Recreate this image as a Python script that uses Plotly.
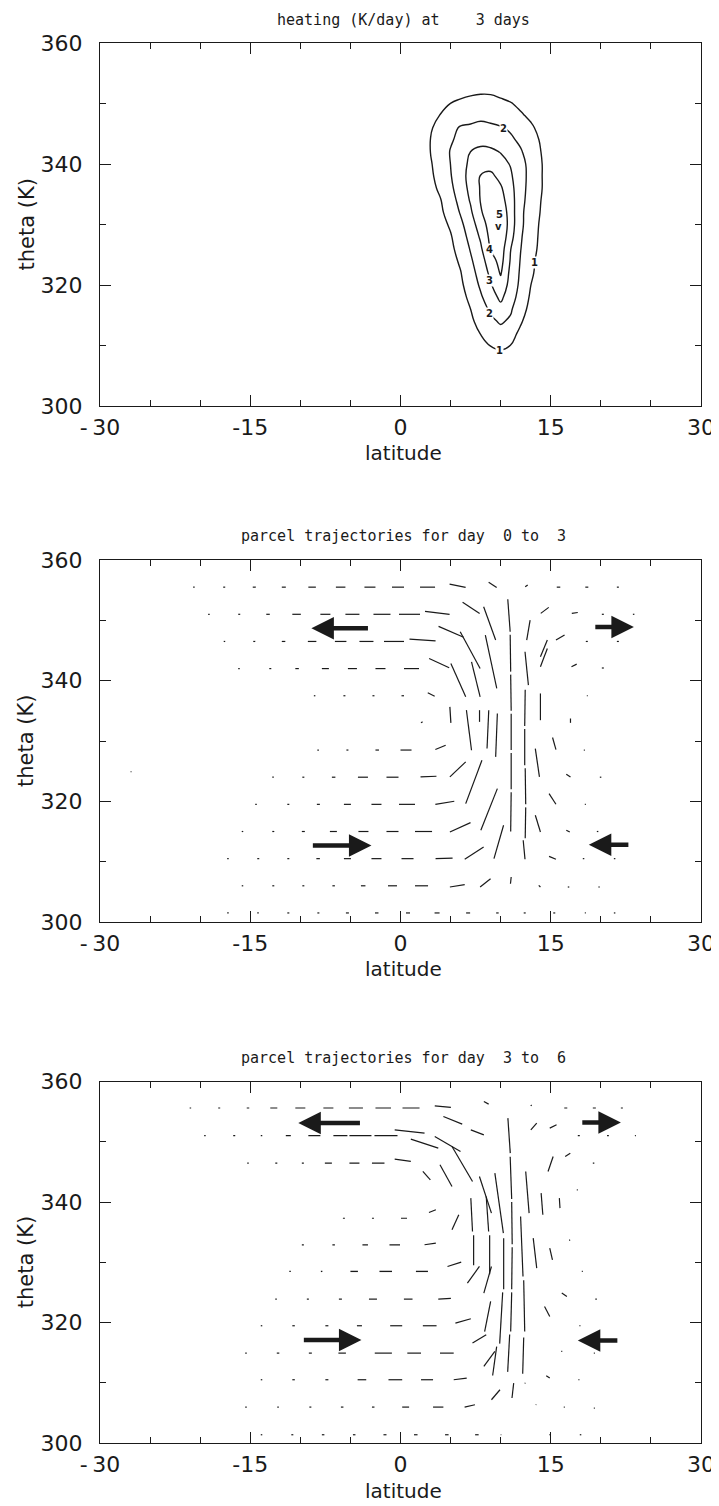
import plotly.graph_objects as go

# ---------------- panel 1 : heating field (K/day) ----------------
lat_grid = [2, 3, 4, 5, 6, 7, 8, 9, 10, 11, 12, 13, 14, 15, 16]
theta_grid = [306, 308, 310, 312, 314, 316, 318, 320, 322, 324, 326, 328, 330,
              332, 334, 336, 338, 340, 342, 344, 346, 348, 350, 352, 354]
heating = [
    [0, 0, 0, 0, 0, 0, 0.1, 0.2, 0.3, 0.2, 0.1, 0, 0, 0, 0],
    [0, 0, 0, 0, 0, 0.15, 0.35, 0.55, 0.7, 0.55, 0.3, 0.1, 0, 0, 0],
    [0, 0, 0, 0, 0, 0.28, 0.68, 1.03, 1.17, 0.99, 0.6, 0.2, 0, 0, 0],
    [0, 0, 0, 0, 0.24, 0.64, 1.03, 1.35, 1.66, 1.25, 0.84, 0.44, 0.04, 0, 0],
    [0, 0, 0, 0.04, 0.44, 0.84, 1.3, 1.8, 2.12, 1.85, 1.08, 0.64, 0.24, 0, 0],
    [0, 0, 0, 0.2, 0.6, 1.0, 1.59, 2.16, 2.7, 2.12, 1.33, 0.76, 0.36, 0, 0],
    [0, 0, 0, 0.32, 0.72, 1.2, 1.87, 2.57, 3.21, 2.45, 1.58, 0.88, 0.48, 0.08, 0],
    [0, 0, 0.04, 0.44, 0.84, 1.43, 2.15, 2.92, 3.67, 2.64, 1.77, 1.01, 0.6, 0.2, 0],
    [0, 0, 0.16, 0.56, 0.96, 1.64, 2.38, 3.22, 4.09, 2.73, 1.86, 1.14, 0.68, 0.28, 0],
    [0, 0, 0.28, 0.68, 1.14, 1.86, 2.57, 3.57, 4.35, 2.9, 1.93, 1.21, 0.72, 0.32, 0],
    [0, 0, 0.4, 0.8, 1.36, 2.08, 2.85, 4.06, 4.53, 3.02, 2.02, 1.33, 0.8, 0.4, 0],
    [0, 0.12, 0.52, 0.92, 1.57, 2.31, 3.14, 4.28, 4.8, 3.33, 2.1, 1.4, 0.84, 0.44, 0.04],
    [0, 0.28, 0.68, 1.13, 1.8, 2.54, 3.5, 4.44, 4.98, 3.5, 2.2, 1.47, 0.88, 0.48, 0.08],
    [0.04, 0.44, 0.84, 1.4, 2.08, 2.85, 3.89, 4.59, 4.76, 3.5, 2.2, 1.53, 0.96, 0.56, 0.16],
    [0.16, 0.56, 0.96, 1.6, 2.31, 3.1, 4.05, 4.59, 4.4, 3.43, 2.3, 1.59, 1.01, 0.6, 0.2],
    [0.32, 0.72, 1.19, 1.81, 2.5, 3.27, 4.08, 4.46, 4.13, 3.3, 2.36, 1.65, 1.06, 0.64, 0.24],
    [0.44, 0.84, 1.35, 1.94, 2.64, 3.33, 4.05, 4.22, 3.71, 3.12, 2.38, 1.69, 1.06, 0.64, 0.24],
    [0.52, 0.92, 1.44, 2.01, 2.67, 3.18, 3.55, 3.64, 3.3, 2.94, 2.31, 1.69, 1.06, 0.64, 0.24],
    [0.6, 1.01, 1.53, 2.05, 2.52, 3.01, 3.21, 3.18, 2.96, 2.52, 2.09, 1.56, 1.01, 0.6, 0.2],
    [0.6, 1.01, 1.45, 1.91, 2.21, 2.48, 2.74, 2.65, 2.4, 2.15, 1.82, 1.36, 0.92, 0.52, 0.12],
    [0.52, 0.92, 1.29, 1.7, 2.1, 2.18, 2.27, 2.2, 2.08, 1.86, 1.5, 1.14, 0.76, 0.36, 0],
    [0.32, 0.72, 1.05, 1.23, 1.41, 1.59, 1.76, 1.65, 1.47, 1.29, 1.11, 0.84, 0.44, 0.04, 0],
    [0, 0.24, 0.64, 1.01, 1.15, 1.25, 1.32, 1.27, 1.16, 1.05, 0.8, 0.4, 0, 0, 0],
    [0, 0.05, 0.2, 0.35, 0.75, 0.85, 0.9, 0.9, 0.8, 0.6, 0.4, 0.25, 0.1, 0, 0],
    [0, 0, 0, 0, 0.05, 0.15, 0.25, 0.25, 0.15, 0.05, 0, 0, 0, 0, 0],
]
contour_labels = [  # (lat, theta, text)
    (10.3, 345.9, "2"), (13.4, 323.8, "1"), (9.9, 309.2, "1"),
    (8.9, 315.3, "2"), (8.9, 320.7, "3"), (8.9, 325.8, "4"),
    (9.9, 331.7, "5"), (9.8, 329.6, "v"),
]

# ---------------- panel 2 : parcel trajectories day 0 to 3 ----------------
# each entry: (lat start, theta start, lat end, theta end)
traj_0_3 = [
    # theta ~355.5
    (-20.7, 355.5, -20.55, 355.5), (-17.7, 355.5, -17.5, 355.5), (-14.75, 355.5, -14.45, 355.5),
    (-11.85, 355.5, -11.45, 355.5), (-9.2, 355.5, -8.45, 355.5), (-6.45, 355.5, -5.5, 355.5),
    (-3.6, 355.5, -2.5, 355.5), (-0.85, 355.5, 0.35, 355.5), (1.95, 355.5, 3.45, 355.5),
    (4.9, 356.0, 6.5, 355.45), (8.8, 356.3, 9.6, 355.45), (12.45, 355.55, 12.7, 355.85),
    (15.6, 355.5, 15.95, 355.5), (18.45, 355.5, 18.75, 355.5), (21.6, 355.5, 21.8, 355.5),
    # theta ~351
    (-19.2, 351, -19.05, 351), (-16.2, 351, -16.0, 351), (-13.4, 351, -13.05, 351),
    (-10.8, 351, -9.95, 351), (-8.0, 351, -7.0, 351), (-5.5, 351, -4.1, 351),
    (-2.7, 351, -1.0, 351), (-0.15, 351, 1.95, 351), (2.45, 351.5, 4.9, 351.0),
    (6.2, 353.0, 7.9, 351.15), (14.0, 351.15, 14.8, 352.15),
    (17.1, 351.15, 17.7, 351.3), (20.1, 351, 20.3, 351), (23.2, 351, 23.35, 351),
    # theta ~346.5
    (-17.65, 346.5, -17.5, 346.5), (-14.7, 346.5, -14.5, 346.5), (-11.85, 346.5, -11.5, 346.5),
    (-9.25, 346.5, -8.4, 346.5), (-6.55, 346.5, -5.4, 346.5), (-4.1, 346.5, -2.7, 346.5),
    (-1.65, 346.5, 0.35, 346.5), (0.9, 346.9, 3.5, 346.6), (3.8, 349.0, 6.3, 347.2),
    (12.94, 350.04, 12.6, 346.73), (13.97, 343.96, 14.66, 346.73), (15.52, 346.73, 16.38, 347.56),
    (18.5, 346.5, 18.7, 346.5), (21.6, 346.5, 21.8, 346.5),
    # theta ~342
    (-16.2, 342, -16.05, 342), (-13.1, 342, -12.9, 342), (-10.5, 342, -10.15, 342),
    (-7.85, 342, -7.15, 342), (-5.25, 342, -4.35, 342), (-2.5, 342, -1.5, 342),
    (0.35, 342, 1.85, 342), (2.86, 343.68, 4.86, 342.13), (13.97, 342.3, 14.66, 345.34),
    (17.07, 342.3, 17.59, 342.74), (20.1, 342.1, 20.3, 342.1),
    # theta ~337.5
    (-8.65, 337.5, -8.5, 337.5), (-5.7, 337.5, -5.5, 337.5), (-2.8, 337.5, -2.6, 337.5),
    (0.1, 337.5, 0.35, 337.5), (2.72, 337.99, 3.41, 337.43), (13.97, 333.45, 13.97, 337.88),
    (18.6, 337.5, 18.7, 337.5),
    # theta ~333
    (2.05, 333, 2.2, 333.2), (4.93, 335.66, 5.03, 333.01), (16.97, 333.73, 16.97, 333.01),
    # theta ~328.5
    (-8.3, 328.5, -8.15, 328.5), (-5.4, 328.5, -5.2, 328.5), (-2.5, 328.5, -2.15, 328.5),
    (0.0, 328.5, 1.1, 328.5), (3.48, 328.58, 4.51, 329.3), (15.18, 330.58, 15.52, 328.58),
    (18.3, 328.5, 18.4, 328.5),
    # theta ~324
    (-12.8, 324, -12.65, 324), (-9.8, 324, -9.6, 324), (-6.85, 324, -6.5, 324),
    (-4.25, 324, -3.25, 324), (-1.4, 324, -0.2, 324), (2.0, 324.05, 3.59, 324.16),
    (4.93, 324.05, 6.51, 326.54), (13.46, 328.75, 13.87, 324.05), (16.55, 324.49, 16.97, 324.05),
    (19.9, 324, 20.05, 324),
    # theta ~319.5
    (-14.5, 319.5, -14.35, 319.5), (-11.3, 319.5, -11.1, 319.5), (-8.35, 319.5, -8.05, 319.5),
    (-5.65, 319.5, -4.95, 319.5), (-2.9, 319.5, -1.9, 319.5), (-0.15, 319.5, 1.45, 319.5),
    (3.48, 319.51, 5.37, 320.01), (14.83, 321.28, 15.52, 319.51), (18.4, 319.5, 18.5, 319.5),
    # theta ~315
    (-15.85, 315, -15.7, 315), (-12.8, 315, -12.6, 315), (-9.85, 315, -9.55, 315),
    (-7.05, 315, -6.35, 315), (-4.2, 315, -3.2, 315), (-1.4, 315, -0.2, 315),
    (1.45, 315, 3.15, 315), (4.93, 314.92, 6.99, 316.47), (13.46, 317.69, 13.97, 314.92),
    (16.55, 315.2, 16.9, 314.92), (19.6, 315, 19.75, 315),
    # theta ~310.5
    (-17.3, 310.5, -17.15, 310.5), (-14.3, 310.5, -14.1, 310.5), (-11.3, 310.5, -11.1, 310.5),
    (-8.4, 310.5, -8.05, 310.5), (-5.65, 310.5, -4.95, 310.5), (-2.9, 310.5, -1.9, 310.5),
    (0.1, 310.5, 1.3, 310.5), (3.5, 310.5, 5.2, 310.6), (6.41, 310.39, 8.3, 312.43),
    (14.83, 310.88, 15.52, 310.39), (18.2, 310.5, 18.35, 310.5), (21.3, 310.5, 21.45, 310.5),
    # theta ~306
    (-15.85, 306, -15.7, 306), (-12.8, 306, -12.6, 306), (-9.8, 306, -9.6, 306),
    (-6.8, 306, -6.55, 306), (-3.95, 306, -3.5, 306), (-1.25, 306, -0.35, 306),
    (1.45, 306, 2.75, 306), (4.93, 305.8, 6.41, 306.18), (7.95, 305.8, 8.99, 307.18),
    (10.98, 306.35, 11.05, 307.46), (13.8, 306.07, 13.97, 305.8), (16.7, 305.8, 16.85, 305.8),
    (19.75, 305.8, 19.9, 305.8),
    # theta ~301.5
    (-17.3, 301.5, -17.15, 301.5), (-14.3, 301.5, -14.15, 301.5), (-11.3, 301.5, -11.1, 301.5),
    (-8.3, 301.5, -8.1, 301.5), (-5.45, 301.5, -5.15, 301.5), (-2.55, 301.5, -2.2, 301.5),
    (0.55, 301.5, 0.95, 301.5), (3.4, 301.5, 3.9, 301.5), (6.55, 301.5, 6.95, 301.5),
    (9.55, 301.5, 9.8, 301.5), (12.3, 301.5, 12.5, 301.5), (15.25, 301.5, 15.45, 301.5),
    (18.4, 301.5, 18.5, 301.5), (21.3, 301.5, 21.45, 301.5),
    # isolated parcel far south
    (-26.95, 324.9, -26.85, 324.9),
    # central rising columns
    (10.71, 353.5, 10.95, 348.1), (10.95, 347.6, 11.0, 341.5), (11.0, 341.0, 11.05, 335.0),
    (11.05, 334.5, 11.05, 328.5), (11.05, 328.0, 11.05, 322.0), (11.05, 321.5, 11.0, 315.0),
    (12.43, 344.79, 12.77, 339.26), (12.45, 338.5, 12.4, 332.5), (12.4, 332.0, 12.4, 326.0),
    (12.45, 325.5, 12.5, 319.5), (12.5, 319.0, 12.45, 313.9), (12.25, 313.54, 12.43, 310.39),
    (8.3, 352.26, 9.5, 346.73), (8.47, 347.56, 9.61, 338.71), (9.5, 327.37, 9.67, 334.56),
    (9.67, 322.11, 8.02, 315.2), (9.33, 310.5, 10.29, 316.03),
    (5.96, 348.11, 7.95, 342.02), (7.09, 343.13, 7.95, 337.32), (8.81, 335.11, 8.64, 328.75),
    (6.51, 319.62, 8.13, 326.81), (5.03, 342.85, 6.51, 337.32), (6.58, 335.11, 7.09, 328.47),
    (7.89, 335.11, 7.89, 333.17),
]
arrows_0_3 = [  # (lat tail, theta tail, lat head, theta head)
    (-3.1, 348.7, -8.9, 348.7), (19.3, 348.9, 23.3, 348.9),
    (-8.9, 312.7, -2.9, 312.7), (22.9, 312.8, 18.8, 312.8),
]

# ---------------- panel 3 : parcel trajectories day 3 to 6 ----------------
traj_3_6 = [
    # theta ~355.6
    (-21.05, 355.6, -20.9, 355.6), (-18.2, 355.6, -18.0, 355.6), (-15.35, 355.6, -15.1, 355.6),
    (-13.0, 355.6, -12.3, 355.6), (-10.5, 355.6, -9.5, 355.6), (-7.7, 355.6, -6.7, 355.6),
    (-5.15, 355.6, -3.75, 355.6), (-2.5, 355.6, -0.95, 355.6), (0.2, 355.6, 1.9, 355.6),
    (3.42, 355.96, 5.03, 355.69), (8.32, 356.68, 8.8, 356.24), (13.0, 355.96, 13.1, 356.1),
    (16.35, 355.6, 16.65, 355.6), (19.2, 355.6, 19.5, 355.6), (22.0, 355.6, 22.2, 355.6),
    # theta ~351
    (-19.6, 351, -19.45, 351), (-16.7, 351, -16.5, 351), (-13.95, 351, -13.8, 351),
    (-11.45, 351, -10.95, 351), (-9.2, 351, -8.0, 351), (-6.7, 351, -5.3, 351),
    (-5.1, 351, -2.9, 351), (-2.6, 351, -0.3, 351), (-0.58, 351.98, 2.4, 351.43),
    (1.03, 350.43, 3.77, 348.94), (4.28, 354.19, 6.16, 352.92), (3.42, 350.87, 5.99, 348.38),
    (7.02, 351.98, 8.32, 351.15), (13.01, 351.98, 13.6, 353.09), (14.9, 352.26, 15.58, 352.81),
    (17.7, 351, 17.9, 351), (20.62, 351, 20.8, 351), (23.4, 351, 23.5, 351),
    # theta ~346.5
    (-15.3, 346.45, -15.15, 346.45), (-12.5, 346.45, -12.3, 346.45), (-9.85, 346.45, -9.65, 346.45),
    (-7.55, 346.45, -6.85, 346.45), (-5.1, 346.45, -4.1, 346.45), (-2.85, 346.45, -1.6, 346.45),
    (-0.58, 347.11, 1.03, 346.73), (2.23, 345.07, 2.98, 343.68), (3.94, 346.17, 5.14, 342.58),
    (5.14, 349.21, 7.19, 343.41), (7.88, 344.24, 9.08, 338.15), (9.42, 344.79, 10.27, 334.83),
    (12.5, 345.07, 12.84, 338.15), (14.73, 345.07, 15.24, 347.56), (16.44, 347.56, 16.95, 348.11),
    (19.2, 346.45, 19.35, 346.45),
    # theta ~342
    (17.6, 342.0, 17.7, 342.0), (15.86, 340.64, 15.92, 338.98), (14.04, 341.47, 14.21, 337.88),
    # theta ~337.3
    (-5.75, 337.3, -5.55, 337.3), (-2.85, 337.3, -2.65, 337.3), (0.05, 337.3, 0.65, 337.3),
    (2.84, 338.26, 3.53, 338.71), (5.14, 335.39, 5.82, 337.88), (7.02, 340.64, 7.19, 335.11),
    (8.56, 340.92, 8.8, 335.11), (11.99, 337.6, 12.23, 327.64), (13.25, 334.0, 13.6, 329.03),
    (14.9, 332.35, 15.17, 330.41), (16.85, 333.75, 16.92, 333.6),
    # theta ~332.9
    (-9.85, 332.9, -9.65, 332.9), (-6.8, 332.9, -6.55, 332.9), (-3.8, 332.9, -3.25, 332.9),
    (-1.1, 332.9, -0.05, 332.9), (2.4, 332.9, 3.53, 333.17),
    # theta ~328.5
    (-11.1, 328.47, -10.95, 328.47), (-7.95, 328.47, -7.8, 328.47), (-5.0, 328.47, -4.25, 328.47),
    (-2.1, 328.47, -0.85, 328.47), (1.54, 328.47, 2.74, 328.47), (4.69, 329.3, 6.06, 330.02),
    (6.68, 326.54, 7.88, 329.3), (8.32, 324.88, 9.08, 329.3), (18.1, 328.47, 18.2, 328.47),
    # theta ~323.9
    (-12.5, 323.88, -12.35, 323.88), (-9.35, 323.88, -9.15, 323.88), (-6.15, 323.88, -5.85, 323.88),
    (-3.15, 323.88, -2.35, 323.88), (0.34, 323.88, 1.2, 323.88), (3.77, 323.88, 5.03, 324.0),
    (16.1, 324.88, 16.61, 324.32), (19.45, 323.88, 19.6, 323.88),
    # theta ~319.5
    (-13.95, 319.46, -13.8, 319.46), (-10.8, 319.46, -10.55, 319.46), (-7.5, 319.46, -7.2, 319.46),
    (-4.35, 319.46, -3.85, 319.46), (-1.03, 319.46, 0.17, 319.46), (2.23, 319.46, 3.6, 319.46),
    (5.48, 319.9, 7.02, 320.62), (14.38, 322.67, 14.9, 321.01), (17.85, 319.46, 17.97, 319.46),
    # theta ~314.9
    (-15.5, 314.92, -15.35, 314.92), (-12.35, 314.92, -12.1, 314.92), (-9.15, 314.92, -8.85, 314.92),
    (-6.2, 314.92, -5.45, 314.92), (-2.57, 314.92, -0.86, 314.92), (0.68, 314.92, 2.05, 314.92),
    (3.94, 314.92, 5.31, 314.92), (7.19, 316.58, 8.56, 317.96), (16.05, 315.2, 16.15, 315.2),
    (19.3, 314.92, 19.4, 314.92),
    # theta ~310.5
    (-13.95, 310.5, -13.8, 310.5), (-10.8, 310.5, -10.55, 310.5), (-7.5, 310.5, -7.2, 310.5),
    (-4.28, 310.5, -3.42, 310.5), (-1.2, 310.5, 0.17, 310.5), (2.05, 310.5, 3.25, 310.5),
    (5.31, 310.5, 6.61, 310.78), (8.32, 312.71, 9.42, 315.2), (14.55, 311.16, 14.9, 310.78),
    (17.75, 310.5, 17.87, 310.5),
    # theta ~306
    (-15.5, 305.96, -15.35, 305.96), (-12.3, 305.96, -12.15, 305.96), (-9.1, 305.96, -8.9, 305.96),
    (-5.95, 305.96, -5.7, 305.96), (-2.85, 305.96, -2.6, 305.96), (0.17, 305.96, 0.86, 305.96),
    (3.25, 305.96, 4.28, 305.96), (6.4, 305.96, 7.43, 306.35), (9.08, 307.18, 9.93, 308.84),
    (11.13, 307.46, 11.3, 309.94), (12.4, 309.9, 12.47, 309.95), (13.5, 306.35, 13.56, 306.4),
    (16.3, 305.96, 16.4, 305.96), (19.3, 305.8, 19.4, 305.8),
    # theta ~301.4
    (-13.95, 301.37, -13.8, 301.37), (-10.9, 301.37, -10.7, 301.37), (-7.85, 301.37, -7.6, 301.37),
    (-4.75, 301.37, -4.5, 301.37), (-1.7, 301.37, -1.4, 301.37), (1.35, 301.37, 1.7, 301.37),
    (4.45, 301.37, 4.8, 301.37), (7.45, 301.37, 7.8, 301.37), (10.0, 301.37, 10.07, 301.37),
    (14.85, 301.37, 14.95, 301.37), (17.9, 301.37, 18.05, 301.37),
    # central rising columns
    (10.72, 353.92, 10.96, 348.11), (10.95, 347.5, 11.1, 340.5), (11.1, 340.0, 11.15, 333.0),
    (11.15, 332.5, 11.1, 325.5), (11.1, 325.0, 11.0, 318.5), (10.9, 318.0, 10.7, 311.8),
    (12.3, 327.0, 12.4, 318.5), (12.3, 317.5, 12.2, 311.5),
    (10.3, 334.0, 10.3, 325.5), (10.2, 325.0, 9.9, 316.5), (9.6, 316.0, 9.2, 311.2),
    (8.9, 334.5, 8.9, 328.0), (7.3, 334.5, 7.3, 329.5), (9.0, 323.5, 8.4, 318.5),
]
arrows_3_6 = [
    (-3.9, 353.1, -10.2, 353.1), (18.0, 353.2, 22.0, 353.2),
    (-9.8, 317.1, -3.9, 317.1), (21.8, 317.0, 17.7, 317.0),
]

titles = ["heating (K/day) at\u00a0\u00a0\u00a0 3 days",
          "parcel trajectories for day\u00a0 0 to\u00a0 3",
          "parcel trajectories for day\u00a0 3 to\u00a0 6"]

# ---------------- layout geometry (figure pixels; page adds an 8 px body margin) ----------------
W, H = 711, 1498
X0, X1 = 92, 693
panel_px = [(35, 398), (552, 914), (1073.5, 1435)]   # (top, bottom) of each plot frame
title_y = [12, 528, 1050]
xlabel_gap = [47, 47, 48]
XMID = 395

FONT = "DejaVu Sans"
TFONT = "DejaVu Sans Mono"
INK = "#1a1a1a"

fig = go.Figure()

fig.add_trace(go.Contour(
    x=lat_grid, y=theta_grid, z=heating,
    contours=dict(start=1, end=5, size=1, coloring="none", showlabels=False),
    line=dict(color=INK, width=1.4, smoothing=1.3),
    showscale=False, hoverinfo="skip", xaxis="x", yaxis="y",
))


def seg_trace(segs, xa, ya, width):
    xs, ys = [], []
    for a, b, c, d in segs:
        xs += [a, c, None]
        ys += [b, d, None]
    return go.Scatter(x=xs, y=ys, mode="lines", line=dict(color=INK, width=width),
                      hoverinfo="skip", showlegend=False, xaxis=xa, yaxis=ya)


fig.add_trace(seg_trace(traj_0_3, "x2", "y2", 1.2))
fig.add_trace(seg_trace(traj_3_6, "x3", "y3", 1.2))

annotations = []
for (la, th, t) in contour_labels:
    annotations.append(dict(x=la, y=th, xref="x", yref="y", text="<b>%s</b>" % t, showarrow=False,
                            font=dict(family=FONT, size=10, color=INK),
                            bgcolor="white", borderpad=0))

for arrs, xr, yr in [(arrows_0_3, "x2", "y2"), (arrows_3_6, "x3", "y3")]:
    for (lt, tt, lh, th) in arrs:
        annotations.append(dict(x=lh, y=th, ax=lt, ay=tt, xref=xr, yref=yr, axref=xr, ayref=yr,
                                text="", showarrow=True, arrowhead=2, arrowsize=1.0,
                                arrowwidth=4.5, arrowcolor=INK, standoff=0))

for i, t in enumerate(titles):
    top, bot = panel_px[i]
    annotations.append(dict(x=XMID / W, y=1 - title_y[i] / H, xref="paper", yref="paper",
                            text=t, showarrow=False, xanchor="center", yanchor="middle",
                            font=dict(family=TFONT, size=15, color=INK)))
    annotations.append(dict(x=XMID / W, y=1 - (bot + xlabel_gap[i]) / H, xref="paper", yref="paper",
                            text="latitude", showarrow=False, xanchor="center", yanchor="middle",
                            font=dict(family=FONT, size=20, color=INK)))
    annotations.append(dict(x=18 / W, y=1 - (top + bot) / 2 / H, xref="paper", yref="paper",
                            text="theta (K)", showarrow=False, textangle=-90,
                            xanchor="center", yanchor="middle",
                            font=dict(family=FONT, size=21, color=INK)))

fig.update_layout(
    template="none",
    width=W, height=H, margin=dict(l=0, r=0, t=0, b=0, pad=0),
    paper_bgcolor="white", plot_bgcolor="white", showlegend=False,
    annotations=annotations,
)

for i in range(3):
    sx = "" if i == 0 else str(i + 1)
    top, bot = panel_px[i]
    fig.layout["xaxis" + sx] = dict(
        domain=[X0 / W, X1 / W], anchor="y" + sx, range=[-30, 30],
        tickvals=[-30, -15, 0, 15, 30],
        ticktext=["-\u200930", "-15", "0", "15", "30"],
        ticks="inside", ticklen=11, tickwidth=1.2, tickcolor=INK,
        minor=dict(dtick=5, ticks="inside", ticklen=6, tickwidth=1.0, tickcolor=INK),
        showline=True, linecolor=INK, linewidth=1.4, mirror="allticks",
        showgrid=False, zeroline=False, automargin=False, ticklabelstandoff=1,
        tickfont=dict(family=FONT, size=22, color=INK),
        fixedrange=True,
    )
    fig.layout["yaxis" + sx] = dict(
        domain=[1 - bot / H, 1 - top / H], anchor="x" + sx, range=[300, 360],
        tickvals=[300, 320, 340, 360],
        ticks="inside", ticklen=11, tickwidth=1.2, tickcolor=INK,
        minor=dict(dtick=10, ticks="inside", ticklen=6, tickwidth=1.0, tickcolor=INK),
        showline=True, linecolor=INK, linewidth=1.4, mirror="allticks",
        showgrid=False, zeroline=False, automargin=False, ticklabelstandoff=12,
        tickfont=dict(family=FONT, size=22, color=INK),
        fixedrange=True,
    )

fig.write_html("out.html")
